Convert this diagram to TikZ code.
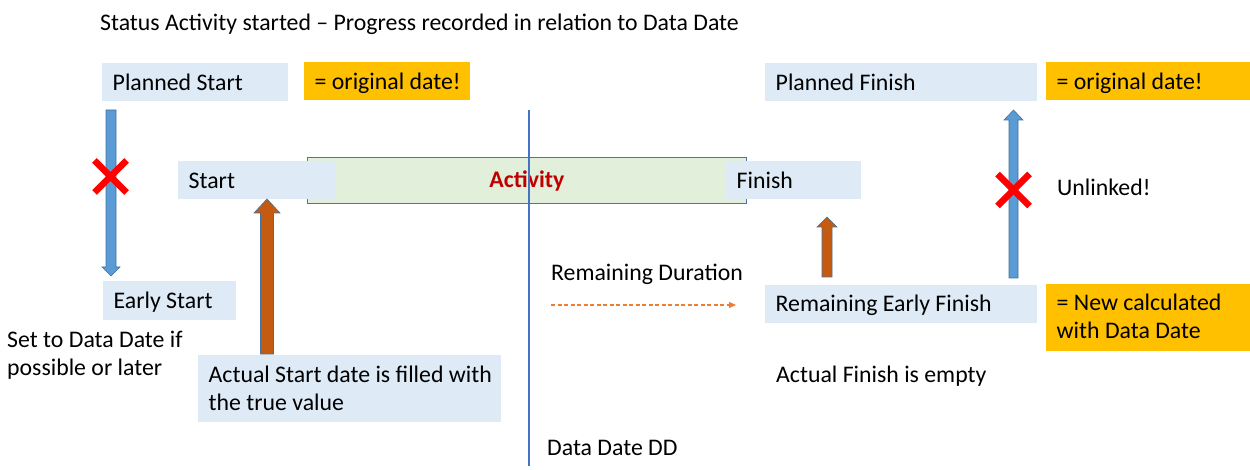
\documentclass[tikz,border=0pt]{standalone}
\usepackage{fontspec}
\setmainfont{Carlito}
\usetikzlibrary{arrows.meta,calc}
\definecolor{boxblue}{HTML}{DEEBF7}
\definecolor{orng}{HTML}{FFC000}
\definecolor{actgreen}{HTML}{E2EFDA}
\definecolor{ablue}{HTML}{5B9BD5}
\definecolor{abrown}{HTML}{C55A11}
\definecolor{aedge}{HTML}{41719C}
\definecolor{dred}{HTML}{C00000}
\definecolor{dashor}{HTML}{ED7D31}
\definecolor{ddblue}{HTML}{4472C4}
\definecolor{xred}{HTML}{FF0000}
% block arrow between two named coordinates (vertical)
\newcommand\blockarrow[6]{%
  \path[#6] let \p1=(#1), \p2=(#2), \n1={sign(\y2-\y1)} in
  (\x1-#3,\y1) -- (\x1-#3,\y2-\n1*#5) -- (\x1-#4,\y2-\n1*#5) -- (\x2,\y2)
  -- (\x1+#4,\y2-\n1*#5) -- (\x1+#3,\y2-\n1*#5) -- (\x1+#3,\y1) -- cycle;}
\newcommand\redcross[1]{%
  \draw[crossline] ($(#1)+(-16,-16)$) -- ($(#1)+(16,16)$);
  \draw[crossline] ($(#1)+(-16,16)$) -- ($(#1)+(16,-16)$);}
% left-aligned box content of fixed width
\newcommand\bxt[2]{\makebox[#1][l]{\begin{tabular}[t]{@{}l@{}}#2\end{tabular}}}
\begin{document}
\begin{tikzpicture}[x=1pt,y=-1pt,
  every node/.style={font=\fontsize{23.8}{28.5}\selectfont},
  box/.style={fill=boxblue, anchor=north west, inner xsep=10.5pt, inner ysep=0pt, text height=27pt},
  obox/.style={box, fill=orng},
  plain/.style={inner sep=0pt, anchor=base west},
  bluearrow/.style={fill=ablue, draw=aedge, line width=0.6pt},
  brownarrow/.style={fill=abrown, draw=aedge, line width=0.6pt},
  crossline/.style={draw=xred, line width=6.5pt, line cap=butt},
  ddline/.style={draw=ddblue, line width=1.2pt},
  remarrow/.style={draw=dashor, line width=1.2pt, dash pattern=on 4pt off 2.5pt, -{Triangle[length=7pt,width=6pt]}}
]
\useasboundingbox (0,0) rectangle (1250,470);

% title
\node[plain] (title) at (100,31) {Status Activity started -- Progress recorded in relation to Data Date};

% activity bar
\node[draw=ddblue, line width=0.9pt, fill=actgreen, anchor=north west, minimum width=439pt, minimum height=46pt,
      inner sep=0pt, text height=15.1pt, text depth=0pt, text=dred, font=\fontsize{23.8}{28.5}\selectfont\bfseries]
      (act) at (307,157) {Activity};

% boxes
\node[box, minimum height=38pt, text depth=11pt] (ps) at (102,63) {\bxt{165pt}{Planned Start}};
\node[obox, minimum height=38pt, text depth=11pt] (orig1) at (304,62) {\bxt{145pt}{= original date!}};
\node[box, minimum height=38pt, text depth=11pt] (start) at (178,161) {\bxt{137pt}{Start}};
\node[box, minimum height=38pt, text depth=11pt] (finish) at (726,161) {\bxt{114pt}{Finish}};
\node[box, minimum height=39pt, text depth=11.5pt, text height=27.5pt] (es) at (103,281) {\bxt{112pt}{Early Start}};
\node[box, minimum height=67pt, text depth=40pt] (as) at (198,355)
  {\bxt{282pt}{Actual Start date is filled with\\the true value}};
\node[box, minimum height=38pt, text depth=11pt] (pf) at (765,63) {\bxt{251pt}{Planned Finish}};
\node[obox, minimum height=38pt, text depth=11pt] (orig2) at (1046,62) {\bxt{183pt}{= original date!}};
\node[box, minimum height=38pt, text depth=12pt, text height=26pt] (ref) at (765,285) {\bxt{251pt}{Remaining Early Finish}};
\node[obox, minimum height=67pt, text depth=41pt, text height=26pt] (nc) at (1046,284)
  {\bxt{183pt}{= New calculated\\with Data Date}};

% plain texts
\node[plain] (setdd) at (7,347) {\begin{tabular}[t]{@{}l@{}}Set to Data Date if\\possible or later\end{tabular}};
\node[plain] (remdur) at (551,281) {Remaining Duration};
\node[plain] (afe) at (776,382) {Actual Finish is empty};
\node[plain] (unl) at (1057,196) {Unlinked!};
\node[plain] (ddlab) at (547,455) {Data Date DD};

% data date line
\coordinate (dd1) at (529,110);
\coordinate (dd2) at (529,466);
\draw[ddline] (dd1) -- (dd2);

% block arrows
\coordinate (a1t) at (111,110);  \coordinate (a1h) at (111,276);
\blockarrow{a1t}{a1h}{5pt}{9pt}{9pt}{bluearrow}
\coordinate (a2t) at (267,354);  \coordinate (a2h) at (267,199);
\blockarrow{a2t}{a2h}{6.5pt}{13pt}{14pt}{brownarrow}
\coordinate (a3t) at (827,277);  \coordinate (a3h) at (827,217);
\blockarrow{a3t}{a3h}{5pt}{10pt}{10pt}{brownarrow}
\coordinate (a4t) at (1013.5,278);  \coordinate (a4h) at (1013.5,110);
\blockarrow{a4t}{a4h}{4.5pt}{9.5pt}{10pt}{bluearrow}

% crosses
\coordinate (x1) at (110.5,176.5);
\redcross{x1}
\coordinate (x2) at (1013.5,190);
\redcross{x2}

% remaining duration arrow
\coordinate (rd1) at (551,305);
\coordinate (rd2) at (736,305);
\draw[remarrow] (rd1) -- (rd2);
\end{tikzpicture}
\end{document}
